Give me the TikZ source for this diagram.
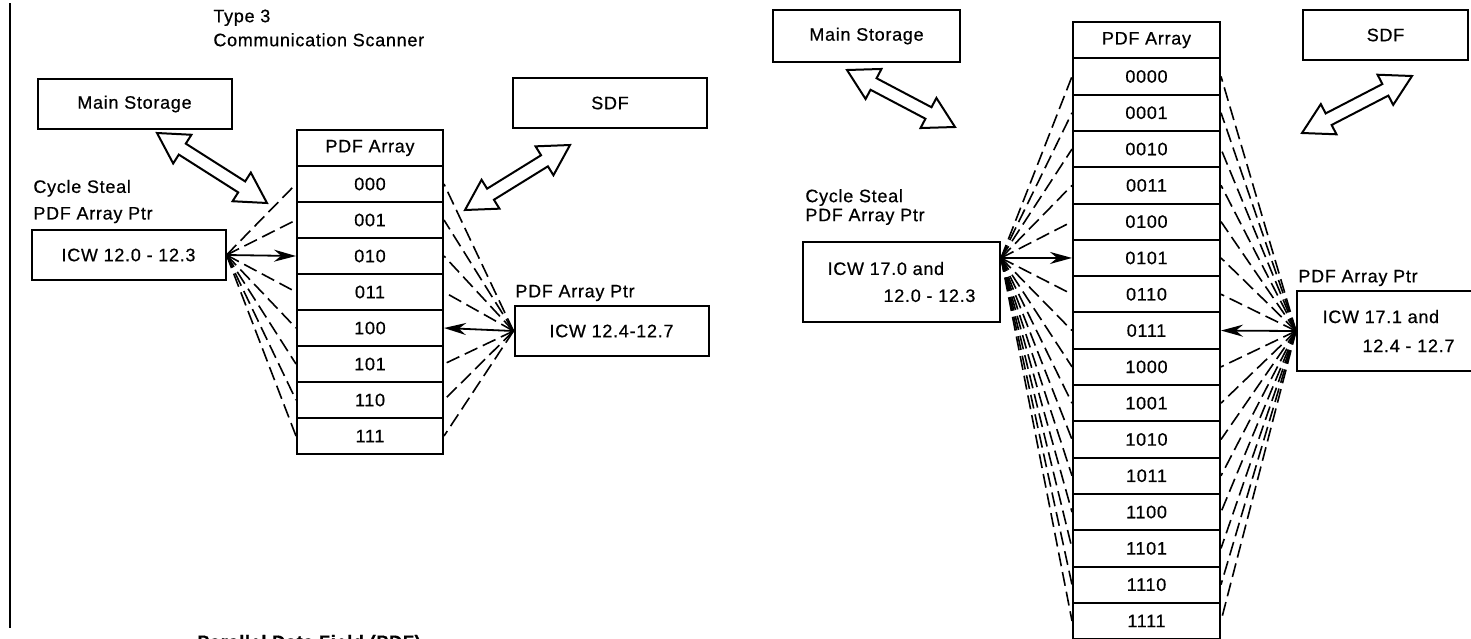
\documentclass[tikz,border=0pt]{standalone}
\usepackage{fontspec}
\setmainfont{Liberation Sans}[LetterSpace=4, FakeBold=0.6]
\usetikzlibrary{arrows.meta, positioning}

% wide outlined two-headed arrow, tip (#1,#2) to tip (#3,#4)
\newcommand{\fatarrow}[4]{%
  \pgfmathsetmacro{\fatang}{atan2(#2-#4,#3-#1)}%
  \pgfmathsetmacro{\fatlen}{veclen(#3-#1,#4-#2)}%
  \draw[line width=1pt, line join=miter, shift={(#1,#2)}, rotate=\fatang]
    (0,0) -- (30,17) -- (30,6.5) -- (\fatlen-30,6.5) -- (\fatlen-30,17) -- (\fatlen,0)
    -- (\fatlen-30,-17) -- (\fatlen-30,-6.5) -- (30,-6.5) -- (30,-17) -- cycle;}

\begin{document}
\begin{tikzpicture}[x=0.5pt, y=-0.5pt, >={Stealth[length=11pt, width=6pt]},
		every node/.style={font=\fontsize{9}{10}\selectfont},
		box/.style={rectangle, draw=black, line width=1pt, minimum width=97pt, minimum height=25pt},
		cell/.style={rectangle, draw=black, line width=1pt, minimum width=73pt, minimum height=18pt, inner sep=0pt},
		txt/.style={anchor=west, align=left, inner sep=0pt},
		fan/.style={line width=0.8pt, dash pattern=on 7pt off 3pt},
		ptr/.style={->, line width=0.9pt}]
		
		\useasboundingbox (0,0) rectangle (1471,638);
		
		% Left: 3-bit scanner
		\draw[line width=1.3pt] (10,3) -- (10,628);
		\node[txt, font=\fontsize{9}{12}\selectfont] (title) at (213,28) {Type 3\\Communication Scanner};
		\node[box] (mainl) at (134.5,104) {Main Storage};
		\node[box] (sdfl) at (610,103) {SDF};
		\node[txt, font=\fontsize{9}{13.3}\selectfont] (cstl) at (33,201.5) {Cycle Steal\\PDF Array Ptr};
		\node[box] (csl) at (128.5,255) {ICW 12.0 - 12.3};
		\node[txt] (ptrtl) at (515,293) {PDF Array Ptr};
		\node[box] (ptrl) at (611.5,331) {ICW 12.4-12.7};
		
		\node[cell] (lh) at (370,148) {PDF Array};
		\foreach \b [count=\i] in {000,001,010,011,100,101,110,111}
			\node[cell] (l\i) at (370,{148+36*\i}) {\b};
		
		\fatarrow{157}{133}{267}{203}
		\fatarrow{465}{210}{570}{145}
		
		\foreach \i in {1,2,4,5,6,7,8}
			\draw[fan] (csl.east) -- (l\i.west);
		\draw[ptr] (csl.east) -- (l3.west);
		\foreach \i in {1,2,3,4,6,7,8}
			\draw[fan] (ptrl.west) -- (l\i.east);
		\draw[ptr] (ptrl.west) -- (l5.east);
		
		\node[txt, anchor=base west, font=\bfseries\fontsize{9}{10}\selectfont] (cap) at (197,648) {Parallel Data Field (PDF)};
		
		% Right: 4-bit scanner
		\node[box, minimum width=93.5pt, minimum height=26pt] (mainr) at (866.5,36) {Main Storage};
		\node[box, minimum width=82.5pt] (sdfr) at (1385.5,35) {SDF};
		\node[txt, font=\fontsize{9}{9.5}\selectfont] (cstr) at (805,207) {Cycle Steal\\PDF Array Ptr};
		\node[box, minimum width=98.5pt, minimum height=40pt, align=left, font=\fontsize{9}{13.5}\selectfont] (csr) at (901.5,282) {ICW 17.0 and\\\hspace*{28pt}12.0 - 12.3};
		\node[txt] (ptrtr) at (1298,278) {PDF Array Ptr};
		\node[box, minimum width=91.5pt, minimum height=40pt, align=left, font=\fontsize{9}{14.5}\selectfont] (ptrr) at (1388.5,331) {ICW 17.1 and\\\hspace*{20pt}12.4 - 12.7};
		\coordinate (csrfan) at ([yshift=12pt]csr.east);
		
		\node[cell, minimum width=73.5pt, minimum height=18.15pt] (rh) at (1146.5,40.15) {PDF Array};
		\foreach \b [count=\i] in {0000,0001,0010,0011,0100,0101,0110,0111,1000,1001,1010,1011,1100,1101,1110,1111}
			\node[cell, minimum width=73.5pt, minimum height=18.15pt] (r\i) at (1146.5,{40.15+36.3*\i}) {\b};
		
		\fatarrow{847}{70}{955}{127}
		\fatarrow{1302}{133}{1412}{76}
		
		\foreach \i in {1,2,3,4,5,7,8,9,10,11,12,13,14,15,16}
			\draw[fan] (csrfan) -- (r\i.west);
		\draw[ptr] (csrfan) -- (r6.west);
		\foreach \i in {1,2,3,4,5,6,7,9,10,11,12,13,14,15,16}
			\draw[fan] (ptrr.west) -- (r\i.east);
		\draw[ptr] (ptrr.west) -- (r8.east);
		
	\end{tikzpicture}
\end{document}
